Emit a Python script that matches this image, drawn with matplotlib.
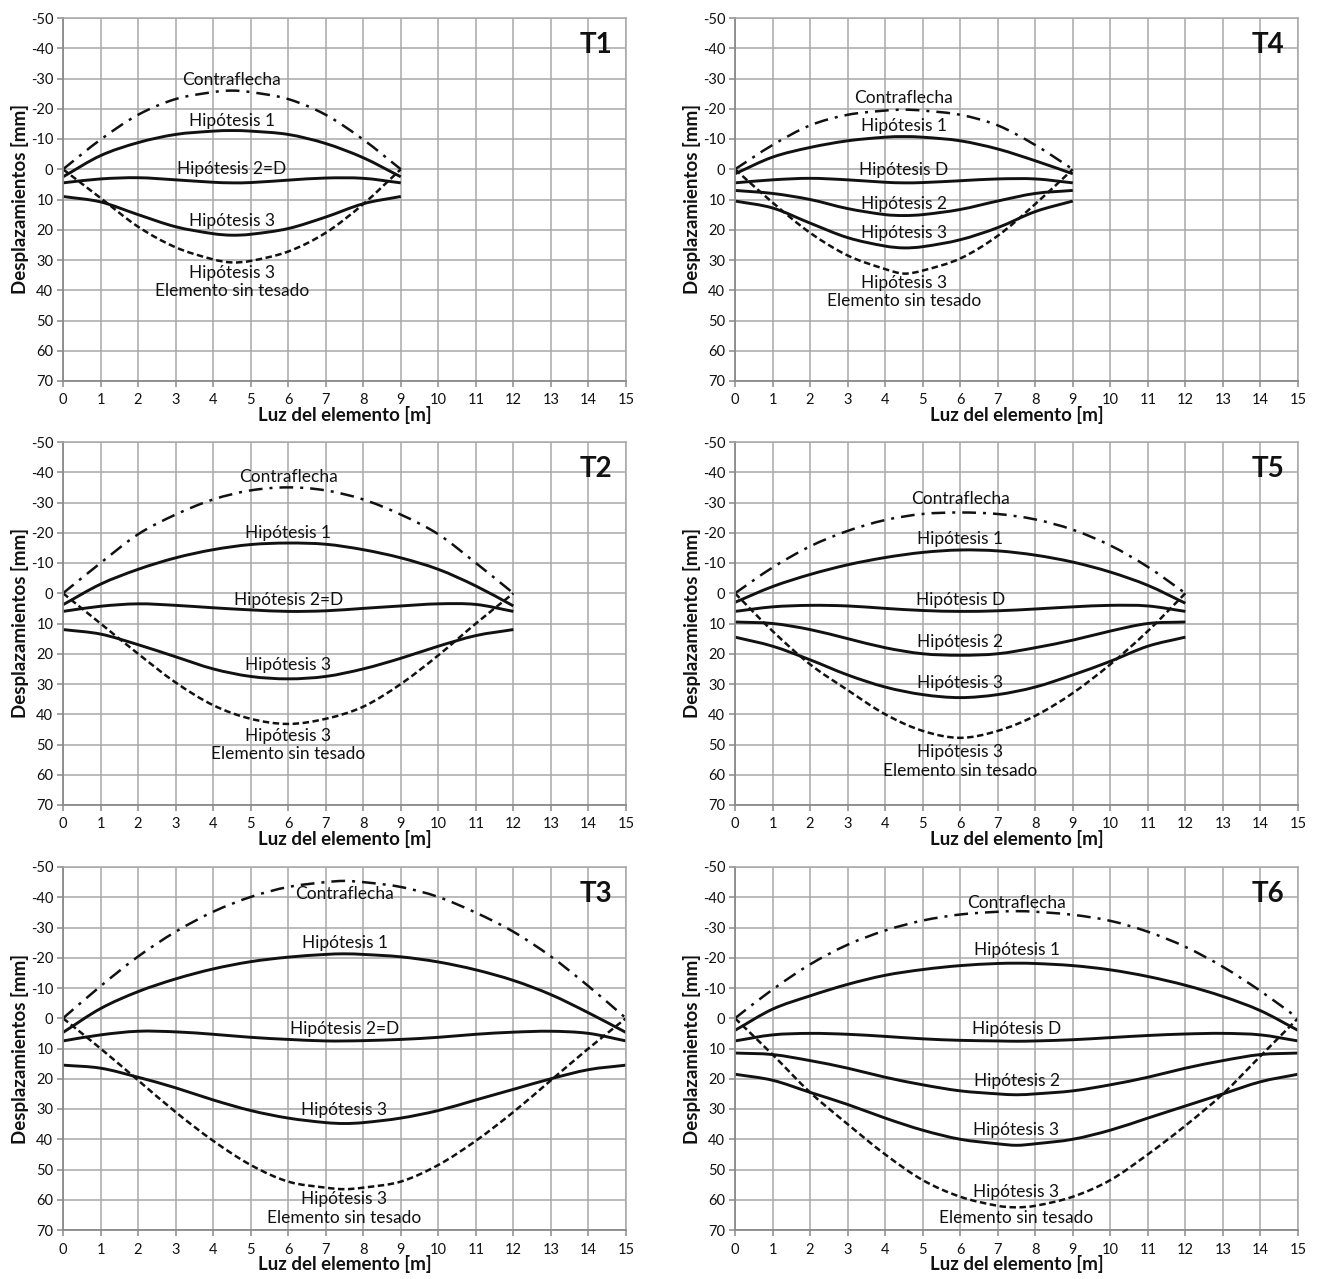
import matplotlib
matplotlib.use('Agg')
import matplotlib.pyplot as plt
from matplotlib.path import Path
from matplotlib.patches import PathPatch

plt.rcParams['font.family'] = ['Lato', 'DejaVu Sans']
plt.rcParams['axes.unicode_minus'] = False

# ---------------- data ----------------
x9 = [0, 1, 2, 3, 4, 4.5, 5, 6, 7, 8, 9]
x12 = [0, 1, 2, 3, 4, 5, 6, 7, 8, 9, 10, 11, 12]
x15 = [0, 1, 2, 3, 4, 5, 6, 7, 7.5, 8, 9, 10, 11, 12, 13, 14, 15]

T1_contra = [0, -9.8, -18, -23.2, -25.5, -26, -25.5, -23.2, -18, -9.8, 0]
T1_hip1 = [2.5, -4.5, -8.8, -11.5, -12.6, -12.8, -12.6, -11.5, -8.5, -3.8, 2.5]
T1_hipD = [4.5, 3.2, 2.8, 3.5, 4.3, 4.5, 4.4, 3.6, 2.9, 3.0, 4.5]
T1_hip3 = [9, 10.8, 15, 19, 21.3, 21.8, 21.5, 19.6, 15.8, 11.4, 9]
T1_sin = [0, 9.5, 19, 25.8, 29.8, 30.8, 30.3, 27.2, 21, 11.5, 0]

T4_contra = [0, -8, -14.5, -18, -19.4, -19.7, -19.4, -18, -14.5, -8, 0]
T4_hip1 = [1.5, -4, -7.2, -9.4, -10.6, -10.8, -10.6, -9.4, -6.7, -2.8, 1.5]
T4_hipD = [4.5, 3.5, 3.0, 3.5, 4.3, 4.5, 4.4, 3.8, 3.2, 3.2, 4.5]
T4_hip2 = [7, 8, 10, 13, 15, 15.3, 15, 13.3, 10.5, 8, 7]
T4_hip3 = [10.5, 12.8, 17.8, 22.6, 25.4, 26, 25.6, 23.3, 19.3, 14.0, 10.5]
T4_sin = [0, 11, 21, 28.5, 33, 34.5, 33.5, 29.5, 22, 11.5, 0]

T2_contra = [0, -10, -19.5, -26, -31, -34, -35, -34, -31, -26, -19.5, -10, 0]
T2_hip1 = [3.8, -3, -7.9, -11.7, -14.4, -16.1, -16.6, -16.2, -14.4, -11.7, -7.9, -2.4, 4.2]
T2_hipD = [6, 4.3, 3.5, 4, 4.8, 5.5, 6, 5.8, 5, 4.2, 3.5, 3.7, 6]
T2_hip3 = [12, 13.5, 17, 21, 25, 27.5, 28.3, 27.5, 25, 21.5, 17.5, 14, 12]
T2_sin = [0, 10, 20, 29.5, 37, 41.5, 43.2, 41.5, 37.5, 30, 20.5, 10, 0]

T5_contra = [0, -8.5, -15.5, -20.6, -24.2, -26.2, -26.7, -26.2, -24.4, -21, -15.8, -8.7, 0]
T5_hip1 = [3, -2.2, -6.2, -9.4, -11.8, -13.5, -14.3, -14.0, -12.6, -10.3, -7.0, -2.6, 3.3]
T5_hipD = [6, 4.5, 4, 4.2, 5, 5.7, 6, 5.8, 5.2, 4.5, 4, 4.2, 6]
T5_hip2 = [9.5, 10, 12, 15, 18, 20, 20.5, 20, 18, 15.5, 12.5, 10, 9.5]
T5_hip3 = [14.5, 17.5, 22, 27, 31, 33.5, 34.5, 33.5, 31, 27, 22.5, 17.5, 14.5]
T5_sin = [0, 12.5, 23.5, 32, 40, 45.5, 47.8, 45.5, 40.5, 33, 23.5, 12.5, 0]

T3_contra = [0, -10.6, -20.4, -28.6, -35.2, -40.1, -43.4, -45, -45.4, -45, -43.4, -40.1, -34.9, -28.6, -20.4, -10.6, 0]
T3_hip1 = [4.7, -3.2, -8.8, -13.0, -16.3, -18.7, -20.2, -21.1, -21.3, -21.1, -20.3, -18.6, -16.0, -12.5, -7.8, -1.8, 4.7]
T3_hipD = [7.5, 5.5, 4.3, 4.5, 5.3, 6.3, 7, 7.5, 7.5, 7.4, 7, 6.3, 5.3, 4.6, 4.3, 5, 7.5]
T3_hip3 = [15.5, 16.5, 19.5, 23, 27, 30.5, 33, 34.5, 34.8, 34.5, 33, 30.5, 27, 23.5, 20, 17, 15.5]
T3_sin = [0, 10, 20.5, 31, 40.5, 48.5, 54, 56, 56.5, 56, 54, 48.5, 40.5, 31, 20.5, 10, 0]

T6_contra = [0, -9.5, -17.8, -24.3, -29.0, -32.3, -34.3, -35.2, -35.4, -35.2, -34.2, -32.2, -28.6, -23.6, -17.0, -9.0, 0]
T6_hip1 = [4, -3, -7.4, -11.2, -14.2, -16.1, -17.4, -18.1, -18.2, -18.1, -17.4, -16.0, -13.8, -10.9, -7.2, -2.5, 4]
T6_hipD = [7.5, 5.5, 5, 5.3, 6, 6.8, 7.3, 7.5, 7.6, 7.5, 7.1, 6.4, 5.7, 5.2, 5, 5.5, 7.5]
T6_hip2 = [11.5, 12, 14, 16.5, 19.5, 22, 24, 25, 25.3, 25, 24, 22, 19.5, 16.5, 14, 12, 11.5]
T6_hip3 = [18.5, 20.5, 24.5, 28.5, 33, 37, 40, 41.5, 42, 41.5, 40, 37, 33, 29, 25, 21, 18.5]
T6_sin = [0, 12, 24.5, 35, 45, 53.5, 59, 62, 62.5, 62, 59, 53.5, 45, 35.5, 25, 12.5, 0]

x_ticks = list(range(0, 16))
y_ticks = list(range(-50, 71, 10))

panels = [
    dict(name='T1', pos=(0, 0), x=x9,
         solid=[T1_hip1, T1_hipD, T1_hip3], contra=T1_contra, sin=T1_sin,
         labels=[('Contraflecha', 4.5, -29.5), ('Hipótesis 1', 4.5, -16),
                 ('Hipótesis 2=D', 4.5, 0), ('Hipótesis 3', 4.5, 17),
                 ('Hipótesis 3', 4.5, 34.4), ('Elemento sin tesado', 4.5, 40.4)]),
    dict(name='T2', pos=(0, 1), x=x12,
         solid=[T2_hip1, T2_hipD, T2_hip3], contra=T2_contra, sin=T2_sin,
         labels=[('Contraflecha', 6, -38.3), ('Hipótesis 1', 6, -19.9),
                 ('Hipótesis 2=D', 6, 2.2), ('Hipótesis 3', 6, 23.8),
                 ('Hipótesis 3', 6, 47.3), ('Elemento sin tesado', 6, 53.3)]),
    dict(name='T3', pos=(0, 2), x=x15,
         solid=[T3_hip1, T3_hipD, T3_hip3], contra=T3_contra, sin=T3_sin,
         labels=[('Contraflecha', 7.5, -41.2), ('Hipótesis 1', 7.5, -24.8),
                 ('Hipótesis 2=D', 7.5, 3.6), ('Hipótesis 3', 7.5, 30.4),
                 ('Hipótesis 3', 7.5, 59.9), ('Elemento sin tesado', 7.5, 65.9)]),
    dict(name='T4', pos=(1, 0), x=x9,
         solid=[T4_hip1, T4_hipD, T4_hip2, T4_hip3], contra=T4_contra, sin=T4_sin,
         labels=[('Contraflecha', 4.5, -23.7), ('Hipótesis 1', 4.5, -14.4),
                 ('Hipótesis D', 4.5, 0.4), ('Hipótesis 2', 4.5, 11.4),
                 ('Hipótesis 3', 4.5, 21.2),
                 ('Hipótesis 3', 4.5, 37.5), ('Elemento sin tesado', 4.5, 43.4)]),
    dict(name='T5', pos=(1, 1), x=x12,
         solid=[T5_hip1, T5_hipD, T5_hip2, T5_hip3], contra=T5_contra, sin=T5_sin,
         labels=[('Contraflecha', 6, -31.1), ('Hipótesis 1', 6, -17.8),
                 ('Hipótesis D', 6, 2.1), ('Hipótesis 2', 6, 16.1),
                 ('Hipótesis 3', 6, 29.7),
                 ('Hipótesis 3', 6, 52.6), ('Elemento sin tesado', 6, 58.6)]),
    dict(name='T6', pos=(1, 2), x=x15,
         solid=[T6_hip1, T6_hipD, T6_hip2, T6_hip3], contra=T6_contra, sin=T6_sin,
         labels=[('Contraflecha', 7.5, -38), ('Hipótesis 1', 7.5, -22.7),
                 ('Hipótesis D', 7.5, 3.5), ('Hipótesis 2', 7.5, 20.9),
                 ('Hipótesis 3', 7.5, 37),
                 ('Hipótesis 3', 7.5, 57.5), ('Elemento sin tesado', 7.5, 65.9)]),
]


def smooth_path(xs, ys):
    """Excel-style smoothed line: cubic Bezier segments passing through each data point."""
    n = len(xs)
    m = []
    for i in range(n):
        if i == 0:
            m.append((ys[1] - ys[0]) / (xs[1] - xs[0]))
        elif i == n - 1:
            m.append((ys[-1] - ys[-2]) / (xs[-1] - xs[-2]))
        else:
            m.append((ys[i + 1] - ys[i - 1]) / (xs[i + 1] - xs[i - 1]))
    verts = [(xs[0], ys[0])]
    codes = [Path.MOVETO]
    for i in range(n - 1):
        h = xs[i + 1] - xs[i]
        verts += [(xs[i] + h / 3, ys[i] + m[i] * h / 3),
                  (xs[i + 1] - h / 3, ys[i + 1] - m[i + 1] * h / 3),
                  (xs[i + 1], ys[i + 1])]
        codes += [Path.CURVE4] * 3
    return Path(verts, codes)


# ---------------- layout ----------------
W, H = 1319, 1279
fig = plt.figure(figsize=(W / 100, H / 100), dpi=100)
col_left = [63 / W, 735 / W]
row_bottom = [1 - 381 / H, 1 - 805 / H, 1 - 1230 / H]
aw, ah = 563 / W, 363 / H

grid_col = '#a8a8a8'
ink = '#111111'

for p in panels:
    c, r = p['pos']
    ax = fig.add_axes([col_left[c], row_bottom[r], aw, ah])
    ax.set_xlim(0, 15)
    ax.set_ylim(70, -50)
    ax.set_xticks(x_ticks)
    ax.set_yticks(y_ticks)
    ax.grid(True, color=grid_col, linewidth=1.1)
    ax.set_axisbelow(True)
    for s in ['top', 'right']:
        ax.spines[s].set_color(grid_col)
        ax.spines[s].set_linewidth(1.1)
    for s in ['left', 'bottom']:
        ax.spines[s].set_color('#8a8a8a')
        ax.spines[s].set_linewidth(1.3)
    ax.tick_params(axis='both', length=4, width=1.1, color='#8a8a8a',
                   labelsize=10.5, labelcolor=ink)
    ax.tick_params(axis='x', pad=5)
    ax.tick_params(axis='y', pad=3)

    xs = p['x']
    ax.add_patch(PathPatch(smooth_path(xs, p['contra']), fill=False,
                           edgecolor=ink, linewidth=1.8,
                           linestyle=(0, (5.5, 2.8, 1.2, 2.8))))
    ax.add_patch(PathPatch(smooth_path(xs, p['sin']), fill=False,
                           edgecolor=ink, linewidth=1.8,
                           linestyle=(0, (2.6, 1.4))))
    for ys in p['solid']:
        ax.add_patch(PathPatch(smooth_path(xs, ys), fill=False,
                               edgecolor=ink, linewidth=2.1))

    for txt, tx, ty in p['labels']:
        ax.text(tx, ty, txt, ha='center', va='center', fontsize=12.5, color=ink)

    ax.text(14.2, -41, p['name'], ha='center', va='center',
            fontsize=20, fontweight='bold', color=ink)

    ax.set_xlabel('Luz del elemento [m]', fontsize=13.5, fontweight='bold',
                  labelpad=-1, color=ink)
    ax.set_ylabel('Desplazamientos [mm]', fontsize=13.5, fontweight='bold',
                  labelpad=1, color=ink)

fig.savefig('out.png', dpi=100, facecolor='white')
